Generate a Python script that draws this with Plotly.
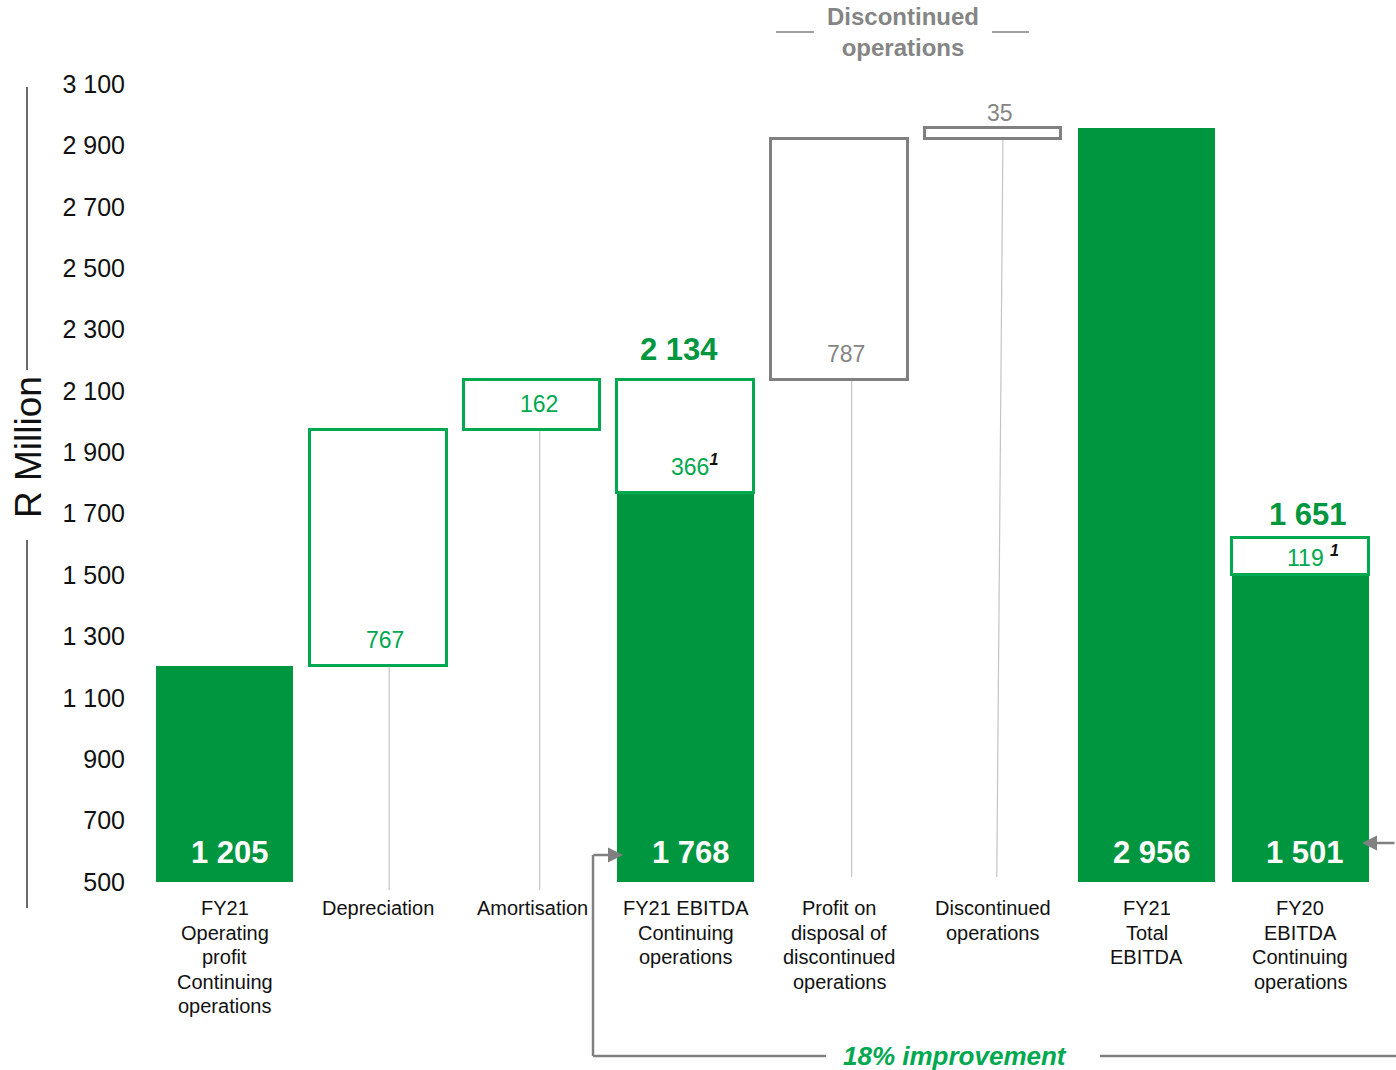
import plotly.graph_objects as go

# ---- data -------------------------------------------------------------
categories = [
    "FY21<br>Operating<br>profit<br>Continuing<br>operations",
    "Depreciation",
    "Amortisation",
    "FY21 EBITDA<br>Continuing<br>operations",
    "Profit on<br>disposal of<br>discontinued<br>operations",
    "Discontinued<br>operations",
    "FY21<br>Total<br>EBITDA",
    "FY20<br>EBITDA<br>Continuing<br>operations",
]
# solid bars (R million)
solid_values = [1205, None, None, 1768, None, None, 2956, 1501]
# floating step boxes (R million)
step_values = [None, 767, 162, 366, 787, 35, None, 119]
# footnote marker shown next to a step value
step_notes = [None, None, None, "1", None, None, None, "1"]
# headline totals written above bars
headline_totals = [None, None, None, 2134, None, None, None, 1651]

y_ticks = [500, 700, 900, 1100, 1300, 1500, 1700, 1900, 2100, 2300, 2500, 2700, 2900, 3100]

# ---- derived bases for the floating boxes ----------------------------
op_profit = solid_values[0]
step_bases = [None] * len(categories)
step_bases[1] = op_profit
step_bases[2] = op_profit + step_values[1]
step_bases[3] = solid_values[3]
step_bases[4] = solid_values[3] + step_values[3]
step_bases[5] = step_bases[4] + step_values[4]
step_bases[7] = solid_values[7]


def fmt(v):
    return f"{v:,}".replace(",", " ")


# ---- styling ----------------------------------------------------------
FONT = "Arial, 'Liberation Sans', sans-serif"
GREEN = "#009640"
GREEN_LINE = "#00A84F"
GREY = "#808080"
GREY_TXT = "#858585"
CONNECT = "#C4C4C4"
step_colors = {1: GREEN_LINE, 2: GREEN_LINE, 3: GREEN_LINE, 4: GREY, 5: GREY, 7: GREEN_LINE}
label_place = {1: "bottom", 2: "middle", 3: "bottom", 4: "bottom", 5: "above", 7: "middle"}

W, H = 1396, 1070
ML, MR, MT, MB = 148, 19, 84, 188
PW, PH = W - ML - MR, H - MT - MB
Y0, Y1 = 500, 3100
BAR_W = 0.89
X = list(range(len(categories)))


def px_x(px):
    return (px - ML) / PW


def px_y(py):
    return (H - MB - py) / PH


def val_y(v):
    return (v - Y0) / (Y1 - Y0)


fig = go.Figure()

# solid bars
fig.add_trace(go.Bar(
    x=[x for x, v in zip(X, solid_values) if v is not None],
    y=[v for v in solid_values if v is not None],
    width=BAR_W, marker=dict(color=GREEN, line=dict(width=0)),
    hoverinfo="skip", showlegend=False,
))

# floating outline boxes
sx = [x for x, v in zip(X, step_values) if v is not None]
fig.add_trace(go.Bar(
    x=sx,
    y=[step_values[i] for i in sx],
    base=[step_bases[i] for i in sx],
    width=BAR_W,
    marker=dict(color="white", line=dict(width=3, color=[step_colors[i] for i in sx])),
    hoverinfo="skip", showlegend=False,
))

shapes = []
annotations = []

# thin connector lines under the floating boxes
conn_bottom = {1: 474, 2: 474, 4: 516, 5: 516}
conn_top_off = {1: 0.07, 2: 0.05, 4: 0.08, 5: 0.065}
conn_bot_off = {1: 0.07, 2: 0.05, 4: 0.08, 5: 0.025}
for i in conn_bottom:
    shapes.append(dict(type="line", xref="x", yref="paper",
                       x0=i + conn_top_off[i], x1=i + conn_bot_off[i],
                       y0=val_y(step_bases[i]), y1=val_y(conn_bottom[i]),
                       line=dict(color=CONNECT, width=1.2), layer="below"))

# values inside solid bars
for i, v in enumerate(solid_values):
    if v is None:
        continue
    annotations.append(dict(x=i, y=Y0, xref="x", yref="y", text=f"<b>{fmt(v)}</b>",
                            showarrow=False, yanchor="bottom", yshift=10, xshift=5,
                            font=dict(family=FONT, size=31, color="white")))

# values of the floating boxes
for i, v in enumerate(step_values):
    if v is None:
        continue
    col = GREY_TXT if step_colors[i] == GREY else GREEN_LINE
    txt = fmt(v)
    xs = 7
    if step_notes[i]:
        sep = " " if i == 7 else ""
        txt = f"{txt}{sep}<span style='color:#111'><sup><b><i>{step_notes[i]}</i></b></sup></span>"
        xs = 9 if i == 3 else 13
    place = label_place[i]
    if place == "bottom":
        y, ya, ysh = step_bases[i], "bottom", 11
    elif place == "middle":
        y, ya, ysh = step_bases[i] + v / 2, "middle", 1
    else:
        y, ya, ysh = step_bases[i] + v, "bottom", 0
    annotations.append(dict(x=i, y=y, xref="x", yref="y", text=txt, showarrow=False,
                            yanchor=ya, yshift=ysh, xshift=xs,
                            font=dict(family=FONT, size=23, color=col)))

# headline totals
for i, v in enumerate(headline_totals):
    if v is None:
        continue
    top = step_bases[i] + step_values[i]
    annotations.append(dict(x=i, y=top, xref="x", yref="y", text=f"<b>{fmt(v)}</b>",
                            showarrow=False, yanchor="bottom",
                            yshift=11 if i == 3 else 4,
                            xshift=-7 if i == 3 else 8,
                            font=dict(family=FONT, size=31, color=GREEN)))

# category labels, one annotation per line for tight line spacing
LINE_H = 24.5
for i, c in enumerate(categories):
    for k, line in enumerate(c.split("<br>")):
        annotations.append(dict(x=i, y=0, xref="x", yref="paper", text=line, showarrow=False,
                                xanchor="center", yanchor="middle",
                                yshift=-(26 + k * LINE_H),
                                font=dict(family=FONT, size=20, color="#111111")))

# y-axis title with a broken vertical rule
annotations.append(dict(x=px_x(28), y=px_y(447), xref="paper", yref="paper",
                        xanchor="center", yanchor="middle",
                        text="R Million", textangle=-90, showarrow=False,
                        font=dict(family=FONT, size=37, color="#111111")))
for (a, b) in [(87, 370), (540, 908)]:
    shapes.append(dict(type="line", xref="paper", yref="paper",
                       x0=px_x(27), x1=px_x(27), y0=px_y(a), y1=px_y(b),
                       line=dict(color="#3a3a3a", width=1.5)))

# "Discontinued operations" header
annotations.append(dict(x=px_x(903), y=px_y(32), xref="paper", yref="paper",
                        xanchor="center", yanchor="middle",
                        text="<b>Discontinued<br>operations</b>", showarrow=False,
                        font=dict(family=FONT, size=24, color=GREY_TXT)))
for (a, b) in [(776, 814), (992, 1029)]:
    shapes.append(dict(type="line", xref="paper", yref="paper",
                       x0=px_x(a), x1=px_x(b), y0=px_y(32), y1=px_y(32),
                       line=dict(color=GREY, width=1.5)))

# improvement bracket
BR_Y = 1056
for (x0, y0, x1, y1) in [(593, 855, 593, BR_Y), (593, BR_Y, 826, BR_Y), (1100, BR_Y, 1400, BR_Y)]:
    shapes.append(dict(type="line", xref="paper", yref="paper",
                       x0=px_x(x0), x1=px_x(x1), y0=px_y(y0), y1=px_y(y1),
                       line=dict(color=GREY, width=2.5)))
annotations.append(dict(x=px_x(623), y=px_y(855), xref="paper", yref="paper", text="",
                        showarrow=True, ax=-31, ay=0, arrowhead=2, arrowsize=1.2,
                        arrowwidth=2.5, arrowcolor=GREY))
annotations.append(dict(x=px_x(1362), y=px_y(843), xref="paper", yref="paper", text="",
                        showarrow=True, ax=45, ay=0, arrowhead=2, arrowsize=1.2,
                        arrowwidth=2.5, arrowcolor=GREY))
annotations.append(dict(x=px_x(955), y=px_y(BR_Y), xref="paper", yref="paper",
                        xanchor="center", yanchor="middle",
                        text="<b><i>18% improvement</i></b>", showarrow=False,
                        font=dict(family=FONT, size=26, color="#00A84F")))

fig.update_layout(
    width=W, height=H,
    margin=dict(l=ML, r=MR, t=MT, b=MB, pad=0),
    paper_bgcolor="white", plot_bgcolor="white",
    barmode="overlay", bargap=0,
    showlegend=False,
    xaxis=dict(range=[-0.5, len(categories) - 0.5], showticklabels=False,
               showgrid=False, zeroline=False, showline=False, fixedrange=True),
    yaxis=dict(range=[Y0, Y1], tickvals=y_ticks, ticktext=[fmt(t) for t in y_ticks],
               showgrid=False, zeroline=False, showline=False, ticks="",
               ticklabelstandoff=22,
               tickfont=dict(family=FONT, size=25, color="#111111"), fixedrange=True),
    shapes=shapes,
    annotations=annotations,
)

fig.write_html("out.html")
